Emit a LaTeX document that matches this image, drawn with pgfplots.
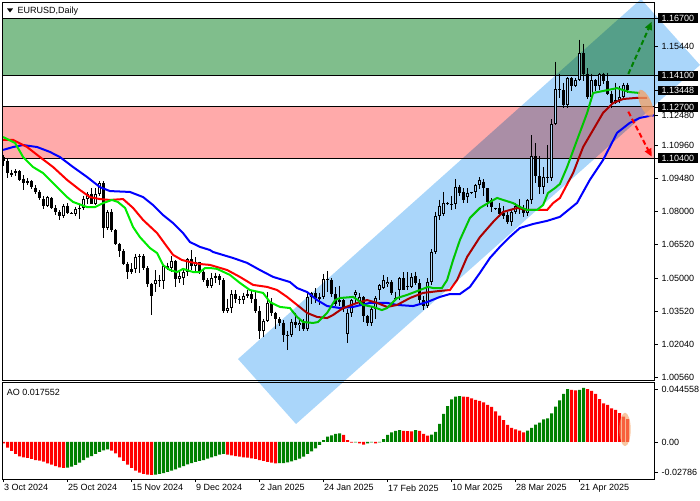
\documentclass[border=0pt]{standalone}
\usepackage{pgfplots}
\pgfplotsset{compat=1.18}
\usepackage{pgfplotstable}
\usepackage{fontspec}
\setmainfont{Liberation Sans}
\usetikzlibrary{arrows.meta}
\definecolor{zgreen}{RGB}{128,190,140}
\definecolor{zpink}{RGB}{255,170,170}
\definecolor{chan}{RGB}{170,214,250}
\definecolor{aogreen}{RGB}{0,128,0}
\definecolor{aored}{RGB}{255,0,0}
\definecolor{malime}{RGB}{0,235,0}
\definecolor{mared}{RGB}{255,0,0}
\definecolor{mablue}{RGB}{0,0,255}
\definecolor{ell}{RGB}{244,160,100}
\newcommand{\lbl}{\fontsize{9}{10}\selectfont}
\pgfdeclareplotmark{nothing}{}

\pgfplotstableread{
i o h l c
0 1.1045 1.1055 1.1005 1.1028
1 1.1028 1.1040 1.0952 1.0974
2 1.0966 1.0988 1.0953 1.0975
3 1.0974 1.0990 1.0960 1.0980
4 1.0980 1.0986 1.0935 1.0940
5 1.0948 1.0965 1.0898 1.0928
6 1.0928 1.0950 1.0918 1.0936
7 1.0936 1.0940 1.0900 1.0910
8 1.0908 1.0918 1.0880 1.0888
9 1.0890 1.0895 1.0852 1.0860
10 1.0856 1.0870 1.0811 1.0826
11 1.0826 1.0872 1.0822 1.0864
12 1.0862 1.0866 1.0810 1.0816
13 1.0815 1.0830 1.0785 1.0796
14 1.0796 1.0805 1.0760 1.0778
15 1.0778 1.0832 1.0773 1.0826
16 1.0826 1.0838 1.0788 1.0792
17 1.0792 1.0796 1.0787 1.0789
18 1.0790 1.0822 1.0780 1.0812
19 1.0810 1.0830 1.0765 1.0818
20 1.0818 1.0872 1.0808 1.0855
21 1.0855 1.0888 1.0835 1.0878
22 1.0880 1.0905 1.0832 1.0836
23 1.0836 1.0905 1.0830 1.0878
24 1.0878 1.0937 1.0870 1.0928
25 1.0928 1.0937 1.0682 1.0728
26 1.0728 1.0805 1.0715 1.0800
27 1.0800 1.0810 1.0710 1.0718
28 1.0718 1.0722 1.0650 1.0655
29 1.0655 1.0660 1.0594 1.0622
30 1.0622 1.0630 1.0560 1.0565
31 1.0565 1.0575 1.0497 1.0530
32 1.0530 1.0568 1.0518 1.0540
33 1.0540 1.0610 1.0525 1.0597
34 1.0594 1.0610 1.0525 1.0598
35 1.0598 1.0608 1.0538 1.0545
36 1.0545 1.0555 1.0462 1.0472
37 1.0472 1.0480 1.0333 1.0418
38 1.0472 1.0535 1.0437 1.0492
39 1.0492 1.0515 1.0462 1.0486
40 1.0486 1.0565 1.0450 1.0555
41 1.0555 1.0570 1.0535 1.0548
42 1.0548 1.0598 1.0530 1.0578
43 1.0578 1.0580 1.0460 1.0498
44 1.0498 1.0530 1.0478 1.0510
45 1.0502 1.0545 1.0470 1.0528
46 1.0528 1.0590 1.0510 1.0585
47 1.0585 1.0628 1.0535 1.0555
48 1.0555 1.0595 1.0530 1.0572
49 1.0572 1.0575 1.0520 1.0530
50 1.0530 1.0538 1.0482 1.0492
51 1.0492 1.0500 1.0455 1.0466
52 1.0466 1.0524 1.0455 1.0502
53 1.0502 1.0525 1.0480 1.0512
54 1.0512 1.0520 1.0470 1.0490
55 1.0490 1.0500 1.0342 1.0352
56 1.0352 1.0408 1.0343 1.0364
57 1.0364 1.0445 1.0344 1.0430
58 1.0430 1.0445 1.0390 1.0405
59 1.0405 1.0420 1.0385 1.0400
60 1.0400 1.0435 1.0385 1.0422
61 1.0422 1.0445 1.0410 1.0428
62 1.0428 1.0445 1.0390 1.0408
63 1.0408 1.0440 1.0343 1.0354
64 1.0354 1.0375 1.0225 1.0265
65 1.0265 1.0318 1.0238 1.0308
66 1.0308 1.0437 1.0305 1.0390
67 1.0390 1.0410 1.0330 1.0342
68 1.0342 1.0350 1.0272 1.0318
69 1.0318 1.0325 1.0285 1.0300
70 1.0300 1.0310 1.0215 1.0243
71 1.0240 1.0265 1.0177 1.0246
72 1.0246 1.0315 1.0235 1.0305
73 1.0305 1.0345 1.0275 1.0290
74 1.0290 1.0320 1.0265 1.0300
75 1.0300 1.0315 1.0265 1.0272
76 1.0272 1.0435 1.0265 1.0417
77 1.0417 1.0440 1.0385 1.0432
78 1.0432 1.0455 1.0390 1.0410
79 1.0408 1.0435 1.0380 1.0414
80 1.0414 1.0520 1.0405 1.0495
81 1.0495 1.0533 1.0440 1.0490
82 1.0490 1.0500 1.0415 1.0430
83 1.0430 1.0460 1.0375 1.0385
84 1.0392 1.0467 1.0375 1.0400
85 1.0400 1.0405 1.0350 1.0362
86 1.0248 1.0362 1.0207 1.0345
87 1.0345 1.0405 1.0325 1.0400
88 1.0425 1.0447 1.0387 1.0438
89 1.0397 1.0432 1.0378 1.0416
90 1.0416 1.0418 1.0305 1.0328
91 1.0328 1.0335 1.0285 1.0300
92 1.0300 1.0370 1.0285 1.0362
93 1.0362 1.0420 1.0315 1.0412
94 1.0447 1.0475 1.0400 1.0470
95 1.0458 1.0515 1.0450 1.0490
96 1.0472 1.0505 1.0460 1.0485
97 1.0485 1.0490 1.0425 1.0435
98 1.0412 1.0440 1.0400 1.0405
99 1.0447 1.0505 1.0400 1.0500
100 1.0500 1.0528 1.0445 1.0447
101 1.0460 1.0528 1.0445 1.0464
102 1.0462 1.0522 1.0455 1.0507
103 1.0510 1.0530 1.0470 1.0477
104 1.0477 1.0495 1.0390 1.0400
105 1.0400 1.0420 1.0357 1.0375
106 1.0375 1.0500 1.0365 1.0485
107 1.0485 1.0630 1.0470 1.0620
108 1.0620 1.0800 1.0610 1.0780
109 1.0780 1.0854 1.0760 1.0826
110 1.0790 1.0888 1.0780 1.0840
111 1.0838 1.0842 1.0830 1.0834
112 1.0834 1.0870 1.0805 1.0828
113 1.0835 1.0947 1.0810 1.0912
114 1.0912 1.0920 1.0868 1.0885
115 1.0888 1.0905 1.0837 1.0852
116 1.0867 1.0905 1.0840 1.0885
117 1.0885 1.0890 1.0880 1.0888
118 1.0888 1.0925 1.0860 1.0919
119 1.0919 1.0955 1.0900 1.0942
120 1.0934 1.0945 1.0870 1.0904
121 1.0904 1.0905 1.0822 1.0844
122 1.0852 1.0860 1.0800 1.0822
123 1.0814 1.0818 1.0808 1.0810
124 1.0814 1.0837 1.0777 1.0791
125 1.0792 1.0825 1.0765 1.0780
126 1.0785 1.0800 1.0745 1.0752
127 1.0752 1.0805 1.0735 1.0798
128 1.0798 1.0840 1.0790 1.0826
129 1.0826 1.0855 1.0790 1.0812
130 1.0812 1.0830 1.0775 1.0792
131 1.0792 1.0855 1.0780 1.0850
132 1.0850 1.1144 1.0835 1.1048
133 1.1048 1.1107 1.0930 1.0958
134 1.0958 1.1050 1.0880 1.0910
135 1.0910 1.1000 1.0880 1.0956
136 1.0956 1.1100 1.0930 1.0950
137 1.0950 1.1215 1.0935 1.1192
138 1.1192 1.1474 1.1188 1.1350
139 1.1350 1.1420 1.1310 1.1345
140 1.1345 1.1380 1.1265 1.1280
141 1.1280 1.1405 1.1265 1.1400
142 1.1400 1.1405 1.1340 1.1365
143 1.1365 1.1400 1.1360 1.1390
144 1.1392 1.1573 1.1385 1.1512
145 1.1512 1.1555 1.1385 1.1420
146 1.1420 1.1445 1.1305 1.1315
147 1.1315 1.1420 1.1310 1.1390
148 1.1390 1.1395 1.1340 1.1365
149 1.1365 1.1425 1.1345 1.1420
150 1.1420 1.1425 1.1375 1.1385
151 1.1385 1.1425 1.1325 1.1330
152 1.1330 1.1340 1.1265 1.1290
153 1.1290 1.1380 1.1285 1.1300
154 1.1300 1.1365 1.1290 1.1315
155 1.1315 1.1380 1.1310 1.1370
156 1.1370 1.1380 1.1335 1.1345
}\candles

\pgfplotstableread{
i v g
0 -0.0010 0
1 -0.0044 0
2 -0.0069 0
3 -0.0092 0
4 -0.0110 0
5 -0.0118 0
6 -0.0123 0
7 -0.0131 0
8 -0.0139 0
9 -0.0144 0
10 -0.0152 0
11 -0.0164 0
12 -0.0175 0
13 -0.0185 0
14 -0.0195 0
15 -0.0200 0
16 -0.0198 1
17 -0.0190 1
18 -0.0177 1
19 -0.0159 1
20 -0.0139 1
21 -0.0121 1
22 -0.0108 1
23 -0.0092 1
24 -0.0077 1
25 -0.0064 1
26 -0.0056 1
27 -0.0067 0
28 -0.0087 0
29 -0.0118 0
30 -0.0146 0
31 -0.0175 0
32 -0.0200 0
33 -0.0221 0
34 -0.0236 0
35 -0.0246 0
36 -0.0252 0
37 -0.0254 0
38 -0.0252 1
39 -0.0246 1
40 -0.0239 1
41 -0.0231 1
42 -0.0221 1
43 -0.0211 1
44 -0.0198 1
45 -0.0185 1
46 -0.0172 1
47 -0.0162 1
48 -0.0154 1
49 -0.0146 1
50 -0.0139 1
51 -0.0128 1
52 -0.0118 1
53 -0.0108 1
54 -0.0098 1
55 -0.0092 1
56 -0.0098 0
57 -0.0103 0
58 -0.0108 0
59 -0.0113 0
60 -0.0118 0
61 -0.0121 0
62 -0.0126 0
63 -0.0131 0
64 -0.0139 0
65 -0.0146 0
66 -0.0154 0
67 -0.0159 0
68 -0.0164 0
69 -0.0163 1
70 -0.0162 1
71 -0.0157 1
72 -0.0149 1
73 -0.0139 1
74 -0.0128 1
75 -0.0113 1
76 -0.0092 1
77 -0.0072 1
78 -0.0049 1
79 -0.0023 1
80 0.0015 1
81 0.0041 1
82 0.0051 1
83 0.0062 1
84 0.0067 1
85 0.0054 0
86 0.0015 0
87 -0.0005 0
88 -0.0003 1
89 -0.0010 0
90 -0.0021 0
91 -0.0010 1
92 -0.0003 1
93 -0.0010 0
94 -0.0003 1
95 0.0023 1
96 0.0054 1
97 0.0074 1
98 0.0085 1
99 0.0092 1
100 0.0085 0
101 0.0084 0
102 0.0082 0
103 0.0092 1
104 0.0085 0
105 0.0062 0
106 0.0049 0
107 0.0056 1
108 0.0077 1
109 0.0139 1
110 0.0216 1
111 0.0277 1
112 0.0329 1
113 0.0349 1
114 0.0354 1
115 0.0349 0
116 0.0347 0
117 0.0336 0
118 0.0324 0
119 0.0316 0
120 0.0306 0
121 0.0285 0
122 0.0270 0
123 0.0236 0
124 0.0203 0
125 0.0169 0
126 0.0131 0
127 0.0108 0
128 0.0098 0
129 0.0087 0
130 0.0074 0
131 0.0087 1
132 0.0108 1
133 0.0134 1
134 0.0149 1
135 0.0175 1
136 0.0182 1
137 0.0221 1
138 0.0272 1
139 0.0321 1
140 0.0370 1
141 0.0408 1
142 0.0401 0
143 0.0398 0
144 0.0401 1
145 0.0416 1
146 0.0408 0
147 0.0393 0
148 0.0370 0
149 0.0331 0
150 0.0298 0
151 0.0285 0
152 0.0259 0
153 0.0247 0
154 0.0223 0
155 0.0195 0
156 0.0177 0
}\aodata

\begin{document}
\begin{tikzpicture}
\useasboundingbox (0pt,0pt) rectangle (700pt,500pt);
\begin{axis}[
  at={(2.5pt,119.5pt)}, anchor=south west,
  scale only axis, width=652pt, height=378pt,
  xmin=-0.25, xmax=162.75, ymin=1.00402, ymax=1.17399,
  axis line style={line width=1pt}, axis on top,
  clip=false, scaled y ticks=false, scaled x ticks=false,
  xtick=\empty,
  ytick pos=right, yticklabel pos=right,
  ytick={1.0056,1.0204,1.0352,1.05,1.0652,1.08,1.0948,1.1096,1.1232,1.1544},
  yticklabels={1.00560,1.02040,1.03520,1.05000,1.06520,1.08000,1.09480,1.10960,1.12480,1.15440},
  tick align=outside, major tick length=3pt,
  tick style={black, line width=0.8pt},
  yticklabel style={font=\lbl, anchor=west, inner xsep=4pt, inner ysep=1.5pt},
  extra y ticks={1.167,1.141,1.13448,1.127,1.104},
  extra y tick labels={1.16700,1.14100,1.13448,1.12700,1.10400},
  extra y tick style={yticklabel style={fill=black, text=white}},
]
% zones
\addplot[fill=zgreen, draw=none] coordinates {(-0.25,1.141) (162.75,1.141) (162.75,1.167) (-0.25,1.167)} -- cycle;
\addplot[fill=zpink, draw=none] coordinates {(-0.25,1.104) (162.75,1.104) (162.75,1.127) (-0.25,1.127)} -- cycle;
\addplot[black, line width=1pt] coordinates {(-0.25,1.167) (162.75,1.167)};
\addplot[black, line width=1pt] coordinates {(-0.25,1.141) (162.75,1.141)};
\addplot[black, line width=1pt] coordinates {(-0.25,1.127) (162.75,1.127)};
\addplot[black, line width=1pt] coordinates {(-0.25,1.104) (162.75,1.104)};
% candles: wicks
\addplot[only marks, mark=nothing, error bars/.cd, y dir=minus, y explicit, error mark=none,
  error bar style={black, line width=1pt}]
  table[x=i, y=h, y error minus expr=\thisrow{h}-\thisrow{l}] {\candles};
% bear bodies
\addplot[only marks, mark=nothing, restrict expr to domain={\thisrow{o}-\thisrow{c}}{0:1},
  error bars/.cd, y dir=minus, y explicit, error mark=none,
  error bar style={black, line width=3pt}]
  table[x=i, y=o, y error minus expr=\thisrow{o}-\thisrow{c}] {\candles};
% bull bodies
\addplot[only marks, mark=nothing, restrict expr to domain={\thisrow{c}-\thisrow{o}}{0.00001:1},
  error bars/.cd, y dir=minus, y explicit, error mark=none,
  error bar style={black, line width=3pt}]
  table[x=i, y=c, y error minus expr=\thisrow{c}-\thisrow{o}] {\candles};
\addplot[only marks, mark=nothing, restrict expr to domain={\thisrow{c}-\thisrow{o}}{0.001:1},
  error bars/.cd, y dir=minus, y explicit, error mark=none,
  error bar style={white, line width=1.2pt}]
  table[x=i, y expr=\thisrow{c}-0.00045, y error minus expr=\thisrow{c}-\thisrow{o}-0.0009] {\candles};
% alligator lines
\addplot[mablue, line width=2pt] coordinates {
(-0.1,1.1077)(2.4,1.1090)(4.9,1.1099)(8.4,1.1090)(11.6,1.1068)(14.1,1.1045)(17.4,1.1000)(20.9,1.0955)
(24.1,1.0910)(26.6,1.0892)(31.6,1.0888)(34.9,1.0865)(37.4,1.0829)(39.9,1.0784)(42.4,1.0748)(44.9,1.0703)
(46.6,1.0663)(49.1,1.0641)(51.6,1.0627)(52.4,1.0618)(57.4,1.0591)(60.9,1.0569)(64.1,1.0537)(67.4,1.0506)
(71.6,1.0483)(73.4,1.0456)(75.9,1.0438)(78.4,1.0402)(80.9,1.0375)(84.1,1.0366)(87.4,1.0371)(91.6,1.0389)
(95.9,1.0389)(98.4,1.0380)(102.4,1.0375)(105.9,1.0393)(109.1,1.0416)(111.6,1.0429)(114.1,1.0429)(116.6,1.0461)
(119.1,1.0524)(121.6,1.0591)(124.1,1.0641)(126.6,1.0686)(129.1,1.0726)(132.4,1.0744)(135.9,1.0758)(139.1,1.0776)
(143.4,1.0839)(146.6,1.0943)(149.9,1.1032)(153.4,1.1154)(156.6,1.1199)(159.1,1.1221)(161.6,1.1230)(162.75,1.1233)};
\addplot[mared, line width=2pt] coordinates {
(-0.1,1.1122)(2.4,1.1122)(5.9,1.1090)(9.1,1.1045)(12.4,1.1000)(15.9,1.0942)(19.1,1.0897)(21.6,1.0865)
(24.1,1.0856)(26.6,1.0852)(29.9,1.0856)(32.4,1.0816)(34.9,1.0762)(38.4,1.0703)(40.9,1.0641)(42.4,1.0605)
(44.6,1.0582)(46.6,1.0573)(49.1,1.0564)(51.6,1.0560)(55.9,1.0537)(59.1,1.0506)(62.4,1.0470)(65.9,1.0461)
(68.4,1.0447)(70.9,1.0416)(73.4,1.0380)(75.9,1.0344)(78.4,1.0326)(80.9,1.0321)(82.4,1.0335)(84.9,1.0366)
(88.4,1.0389)(90.9,1.0402)(93.4,1.0389)(95.9,1.0371)(98.4,1.0380)(101.6,1.0411)(104.9,1.0434)(109.1,1.0443)
(111.6,1.0447)(113.4,1.0492)(115.9,1.0596)(119.1,1.0685)(122.4,1.0753)(124.9,1.0798)(128.4,1.0816)(130.9,1.0807)
(135.9,1.0807)(137.4,1.0838)(139.1,1.0861)(142.4,1.0973)(144.9,1.1090)(147.4,1.1167)(149.9,1.1244)(152.4,1.1288)
(154.9,1.1306)(158.4,1.1311)(160.9,1.1311)};
\addplot[malime, line width=2pt] coordinates {
(-0.1,1.1135)(2.9,1.1108)(4.9,1.1045)(7.4,1.1000)(9.9,1.0973)(12.4,1.0928)(15.9,1.0865)(17.4,1.0843)
(20.9,1.0820)(22.9,1.0820)(24.9,1.0838)(27.1,1.0852)(28.6,1.0843)(30.4,1.0816)(32.4,1.0730)(34.1,1.0685)
(36.6,1.0636)(38.4,1.0613)(39.9,1.0559)(41.6,1.0537)(43.4,1.0528)(44.9,1.0542)(47.4,1.0528)(49.1,1.0528)
(50.4,1.0546)(51.6,1.0546)(53.4,1.0542)(56.6,1.0515)(59.1,1.0479)(61.6,1.0447)(64.9,1.0434)(66.6,1.0393)
(69.1,1.0371)(71.6,1.0366)(73.4,1.0326)(74.9,1.0303)(77.4,1.0299)(78.6,1.0303)(80.9,1.0344)(82.9,1.0402)
(84.1,1.0411)(87.4,1.0416)(88.6,1.0402)(89.9,1.0380)(92.4,1.0371)(94.6,1.0357)(95.9,1.0366)(98.4,1.0411)
(100.9,1.0425)(104.1,1.0447)(106.1,1.0461)(107.4,1.0456)(109.6,1.0456)(110.9,1.0492)(112.4,1.0582)(114.1,1.0672)
(116.6,1.0771)(119.1,1.0816)(121.6,1.0843)(123.4,1.0861)(124.9,1.0852)(127.4,1.0838)(129.1,1.0820)(130.9,1.0807)
(133.4,1.0807)(134.9,1.0829)(136.1,1.0883)(137.9,1.0906)(139.1,1.0924)(140.9,1.1000)(143.4,1.1122)(145.9,1.1243)
(147.4,1.1333)(149.9,1.1342)(153.4,1.1355)(154.9,1.1346)(156.6,1.1337)(159.1,1.1333)};
% channel
\addplot[fill=chan, draw=none, blend mode=multiply] coordinates {
(58.625,1.01369) (73.125,0.98446) (174.125,1.14588) (159.375,1.17556)} -- cycle;
% annotations
\fill[ell, opacity=0.75] (axis cs:160.575,1.12862) circle [x radius=14.8pt, y radius=5.5pt, rotate=-66];
\addplot[aogreen, line width=2pt, dash pattern=on 5pt off 3pt, -{Triangle[length=8pt,width=7pt]}]
  coordinates {(156.2,1.14184) (162.05,1.16535)};
\addplot[aored, line width=2pt, dash pattern=on 5pt off 3pt, -{Triangle[length=8pt,width=7pt]}]
  coordinates {(156.2,1.12489) (162.05,1.10465)};
\end{axis}

\begin{axis}[
  at={(2.5pt,21pt)}, anchor=south west,
  scale only axis, width=652pt, height=96pt,
  xmin=-0.25, xmax=162.75, ymin=-0.02851, ymax=0.04545,
  axis line style={line width=1pt}, axis on top,
  clip=false, scaled y ticks=false, scaled x ticks=false,
  xtick pos=bottom,
  xtick={-0.125,15.875,31.875,47.875,63.875,79.875,95.875,111.875,127.875,143.875},
  xticklabels={3 Oct 2024,25 Oct 2024,15 Nov 2024,9 Dec 2024,2 Jan 2025,24 Jan 2025,17 Feb 2025,10 Mar 2025,28 Mar 2025,21 Apr 2025},
  xticklabel style={font=\lbl, anchor=north west, inner xsep=1pt, inner ysep=2.5pt},
  ytick pos=right, yticklabel pos=right,
  ytick={-0.02311,0,0.04083},
  yticklabels={-0.02786,0.00,0.044558},
  yticklabel style={font=\lbl, anchor=west, inner xsep=4pt, inner ysep=1.5pt},
  tick align=outside, major tick length=3pt,
  tick style={black, line width=0.8pt},
]
\addplot[ybar, bar width=3pt, bar shift=0pt, fill=aogreen, draw=none,
  restrict expr to domain={\thisrow{g}}{0.5:1.5}] table[x=i, y=v] {\aodata};
\addplot[ybar, bar width=3pt, bar shift=0pt, fill=aored, draw=none,
  restrict expr to domain={\thisrow{g}}{-0.5:0.5}] table[x=i, y=v] {\aodata};
\fill[ell, opacity=0.6] (axis cs:155.375,0.0097) circle [x radius=5.7pt, y radius=16.7pt];
\node[anchor=west, font=\lbl, inner sep=0pt] at (axis cs:0.8,0.0383) {AO 0.017552};
\end{axis}
\fill (7pt,491.5pt) -- (13pt,491.5pt) -- (10pt,487.5pt) -- cycle;
\node[anchor=west, font=\lbl, inner sep=0pt] at (17.5pt,489pt) {EURUSD,Daily};
\end{tikzpicture}
\end{document}
